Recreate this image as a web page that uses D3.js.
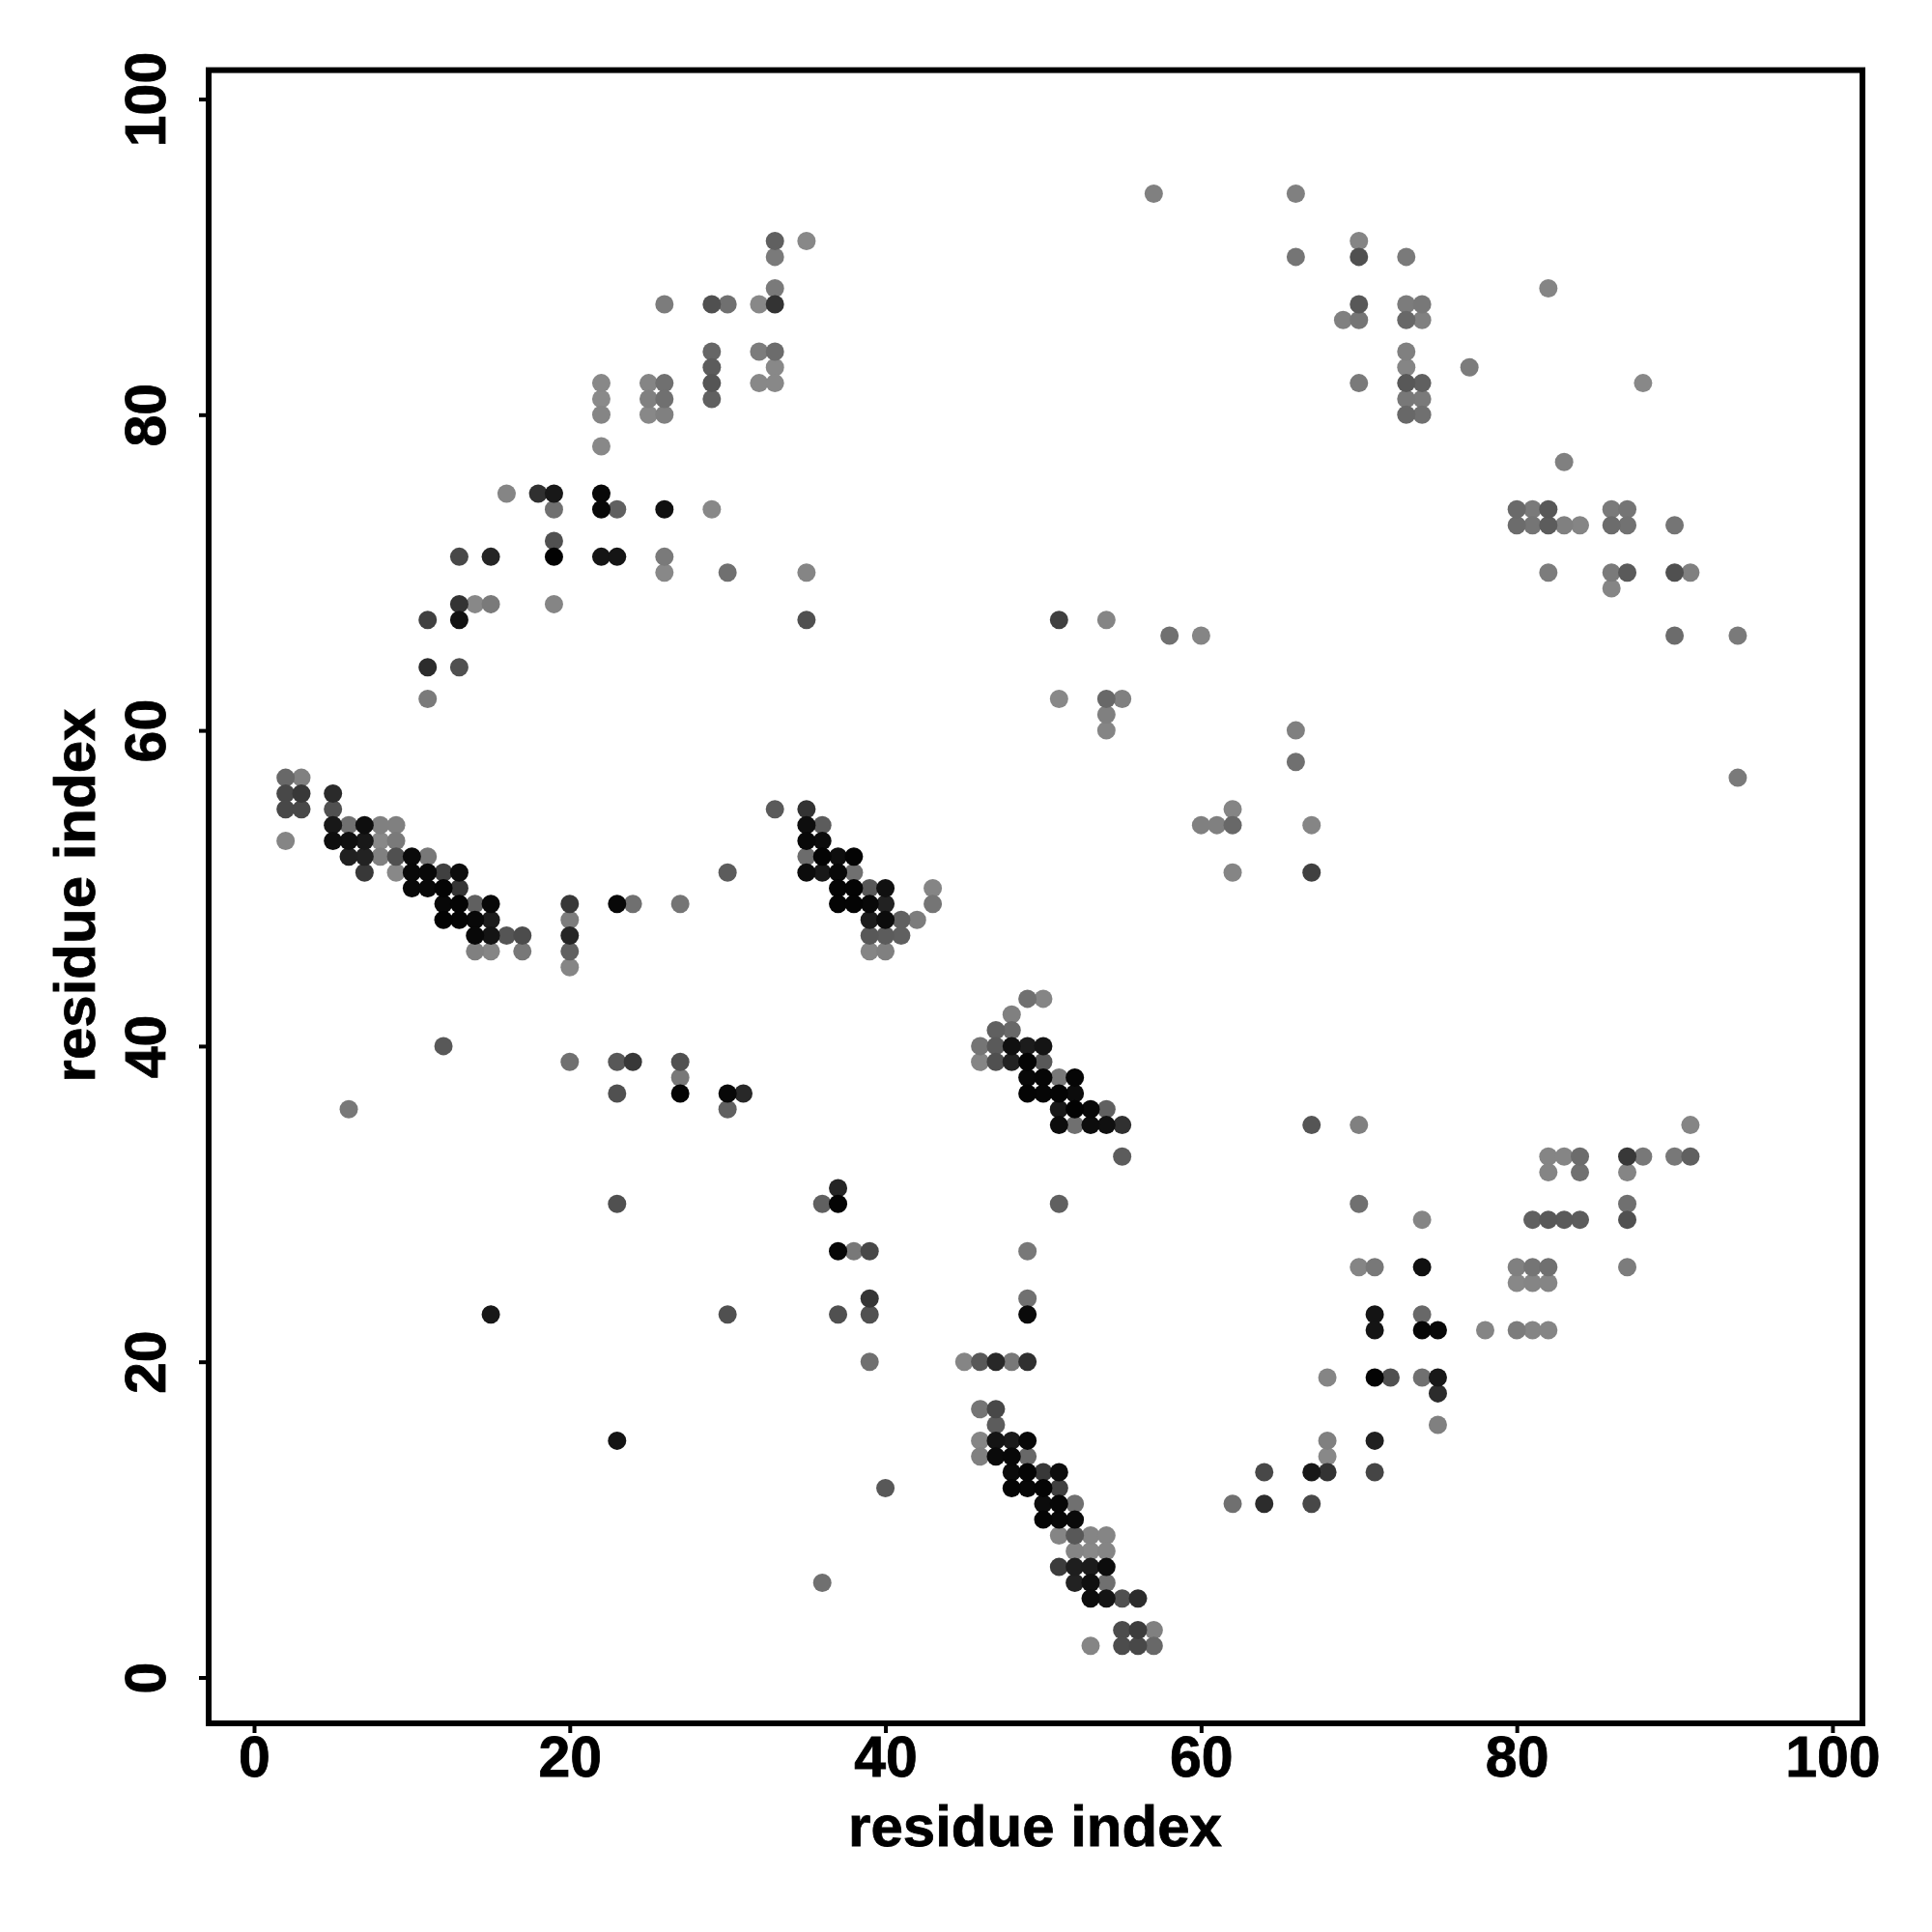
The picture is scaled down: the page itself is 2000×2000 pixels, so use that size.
<!DOCTYPE html>
<html>
<head>
<meta charset="utf-8">
<script src="https://cdn.jsdelivr.net/npm/d3@7"></script>
<style>
html,body{margin:0;padding:0;background:#fff}
svg{display:block}
text{font-family:"Liberation Sans",Arial,sans-serif;font-weight:bold;fill:#000;stroke:#000;stroke-width:0.8px}
</style>
</head>
<body>
<div id="chart"></div>
<script>
const axisTicks = [0, 20, 40, 60, 80, 100];
const axisTitle = "residue index";
const rowY = [94,91,90,88,87,86,84,83,82,81,80,78,77,75,74,73,72,71,70,69,68,67,66,64,62,61,60,58,57,56,55,54,53,52,51,50,49,48,47,46,45,43,42,41,40,39,38,37,36,35,33,32,31,30,29,27,26,25,24,23,22,20,19,18,17,16,15,14,13,12,11,10,9,8,7,6,5,3,2];
const rowX = [
[57,66],[33,35,70],[33,66,70,73],[33,82],[26,29,30,32,33,70,73,74],[69,70,73,74],[29,32,33,73],[29,33,73,77],
[22,25,26,29,32,33,70,73,74,88],[22,25,26,29,73,74],[22,25,26,73,74],[22],[83],[16,18,19,22],
[19,22,23,26,29,80,81,82,86,87],[80,81,82,83,84,86,87,90],[19],[13,15,19,22,23,26],[26,30,35,82,86,87,90,91],[86],
[13,14,15,19],[11,13,35,51,54],[58,60,90,94],[11,13],[11,51,54,55],[54],[54,66],[66],[2,3,94],[2,3,5],
[2,3,5,33,35,62],[5,6,7,8,9,35,36,60,61,62,67],[2,5,6,7,8,9,35,36],[6,7,8,9,10,11,35,36,37,38],
[7,9,10,11,12,13,30,35,36,37,38,62,67],[10,11,12,13,37,38,39,40,43],[12,13,14,15,20,23,24,27,37,38,39,40,43],
[12,13,14,15,20,39,40,41,42],[14,15,16,17,20,39,40,41],[14,15,17,20,39,40],[20],[49,50],[48],[47,48],
[12,46,47,48,49,50],[20,23,24,27,46,47,48,49,50],[27,49,50,51,52],[23,27,30,31,49,50,51,52],[6,30,51,52,53,54],
[51,52,53,54,55,67,70,91],[55,82,83,84,87,88,90,91],[82,84,87],[37],[23,36,37,51,70,87],[74,81,82,83,84,87],
[37,38,39,49],[70,71,74,80,81,82,87],[80,81,82],[39,49],[15,30,37,39,49,71,74],[71,74,75,78,80,81,82],
[39,45,46,47,48,49],[68,71,72,74,75],[75],[46,47],[47,75],[23,46,47,48,49,68,71],[46,47,48,49,68],
[48,49,50,51,64,67,68,71],[40,48,49,50,51],[50,51,52,62,64,67],[50,51,52],[51,52,53,54],[52,53,54],[51,52,53,54],
[36,52,53,54],[53,54,55,56],[55,56,57],[53,55,56,57]
];
const rowShade = [
[0x80,0x80],[0x60,0x88,0x85],[0x7a,0x75,0x50,0x7a],[0x7a,0x85],[0x7c,0x50,0x70,0x88,0x33,0x58,0x7c,0x78],[0x80,0x75,0x68,0x80],[0x66,0x7c,0x6c,0x80],[0x5c,0x88,0x85,0x7c],
[0x88,0x85,0x70,0x55,0x88,0x88,0x7a,0x58,0x60,0x88],[0x8a,0x80,0x70,0x60,0x78,0x7a],[0x85,0x88,0x80,0x68,0x70],[0x88],[0x80],[0x85,0x30,0x18,0x08],
[0x70,0x08,0x60,0x10,0x88,0x6a,0x7a,0x58,0x7a,0x75],[0x6c,0x75,0x5c,0x80,0x85,0x6c,0x72,0x75],[0x50],[0x48,0x25,0x02,0x15,0x15,0x7a],[0x88,0x70,0x85,0x7c,0x7a,0x5a,0x50,0x80],[0x85],
[0x33,0x88,0x7a,0x85],[0x40,0x12,0x50,0x40,0x85],[0x70,0x85,0x6c,0x7a],[0x2c,0x50],[0x7a,0x88,0x68,0x80],[0x80],[0x85,0x80],[0x70],[0x68,0x80,0x7a],[0x48,0x38,0x2a],
[0x48,0x48,0x50,0x5a,0x33,0x85],[0x18,0x70,0x0e,0x80,0x80,0x0e,0x5c,0x80,0x80,0x68,0x85],[0x85,0x0e,0x10,0x18,0x88,0x7a,0x08,0x0c],[0x20,0x22,0x80,0x50,0x0a,0x78,0x6c,0x04,0x0e,0x04],
[0x38,0x88,0x08,0x08,0x40,0x0c,0x5c,0x0c,0x18,0x08,0x70,0x85,0x40],[0x08,0x08,0x04,0x35,0x04,0x04,0x58,0x10,0x85],[0x08,0x04,0x60,0x08,0x38,0x08,0x70,0x75,0x04,0x04,0x08,0x22,0x75],
[0x02,0x04,0x08,0x1c,0x7c,0x1c,0x0c,0x60,0x7c],[0x08,0x14,0x55,0x4c,0x25,0x58,0x5c,0x60],[0x80,0x85,0x78,0x60,0x85,0x80],[0x85],[0x70,0x85],[0x80],[0x60,0x68],
[0x58,0x75,0x5a,0x10,0x1c,0x14],[0x70,0x58,0x38,0x50,0x85,0x50,0x22,0x04,0x58],[0x78,0x08,0x06,0x78,0x06],[0x50,0x04,0x08,0x28,0x04,0x06,0x04,0x0c],[0x78,0x60,0x18,0x02,0x08,0x60],
[0x0c,0x70,0x0c,0x10,0x30,0x55,0x80,0x85],[0x5c,0x85,0x85,0x6c,0x38,0x78,0x78,0x60],[0x85,0x70,0x85],[0x25],[0x50,0x60,0x04,0x60,0x70,0x70],[0x85,0x60,0x58,0x5a,0x5c,0x50],
[0x06,0x78,0x48,0x78],[0x85,0x78,0x10,0x80,0x75,0x70,0x7c],[0x88,0x85,0x85],[0x35,0x70],[0x18,0x50,0x50,0x50,0x0a,0x14,0x68],[0x14,0x06,0x08,0x85,0x7c,0x85,0x85],
[0x70,0x85,0x58,0x28,0x78,0x30],[0x85,0x04,0x50,0x70,0x18],[0x2c],[0x75,0x48],[0x5c,0x80],[0x14,0x85,0x14,0x1a,0x08,0x80,0x20],[0x80,0x0a,0x08,0x68,0x88],
[0x0a,0x04,0x38,0x0c,0x48,0x18,0x33,0x45],[0x58,0x04,0x06,0x04,0x40],[0x0c,0x06,0x70,0x70,0x2c,0x48],[0x04,0x08,0x0a],[0x85,0x58,0x85,0x85],[0x85,0x88,0x85],[0x3c,0x1e,0x1c,0x0c],
[0x70,0x22,0x10,0x70],[0x0c,0x14,0x50,0x2c],[0x4c,0x3c,0x80],[0x85,0x4c,0x48,0x68]
];

const contacts = rowY.flatMap((y, r) => rowX[r].map((x, c) => ({x, y, shade: rowShade[r][c]})))
  .sort((a, b) => d3.descending(a.shade, b.shade));

const x = d3.scaleLinear().domain([-2.876, 101.9]).range([216, 1928]);
const y = d3.scaleLinear().domain([-2.907, 101.83]).range([1784, 72.6]);

const svg = d3.select("#chart").append("svg").attr("width", 2000).attr("height", 2000);

svg.append("g").selectAll("circle").data(contacts).join("circle")
  .attr("cx", d => x(d.x))
  .attr("cy", d => y(d.y))
  .attr("r", 9.5)
  .attr("fill", d => d3.rgb(d.shade, d.shade, d.shade));

const xAxis = svg.append("g").attr("transform", `translate(0,${y.range()[0]})`)
  .call(d3.axisBottom(x).tickValues(axisTicks).tickSize(10).tickSizeOuter(0).tickFormat(d3.format("d")));
const yAxis = svg.append("g").attr("transform", `translate(${x.range()[0]},0)`)
  .call(d3.axisLeft(y).tickValues(axisTicks).tickSize(10).tickSizeOuter(0).tickFormat(d3.format("d")));
[xAxis, yAxis].forEach(a => {
  a.select(".domain").remove();
  a.attr("font-family", null).attr("font-size", null);
  a.selectAll("line").attr("stroke", "#000").attr("stroke-width", 4);
  a.selectAll("text").style("font-size", "59px").attr("fill", "#000");
});
xAxis.selectAll("text").attr("y", 55).attr("dy", 0);
yAxis.selectAll("text").attr("x", 0).attr("y", 0).attr("dy", 0)
  .attr("text-anchor", "middle").attr("transform", "translate(-45,0) rotate(-90)");

svg.append("rect")
  .attr("x", x.range()[0]).attr("y", y.range()[1])
  .attr("width", x.range()[1] - x.range()[0]).attr("height", y.range()[0] - y.range()[1])
  .attr("fill", "none").attr("stroke", "#000").attr("stroke-width", 6);

svg.append("text").attr("x", 1071.5).attr("y", 1910.5).attr("text-anchor", "middle")
  .style("font-size", "60px").text(axisTitle);
svg.append("text").attr("text-anchor", "middle")
  .attr("transform", "translate(98,927) rotate(-90)")
  .style("font-size", "60px").text(axisTitle);
</script>
</body>
</html>
